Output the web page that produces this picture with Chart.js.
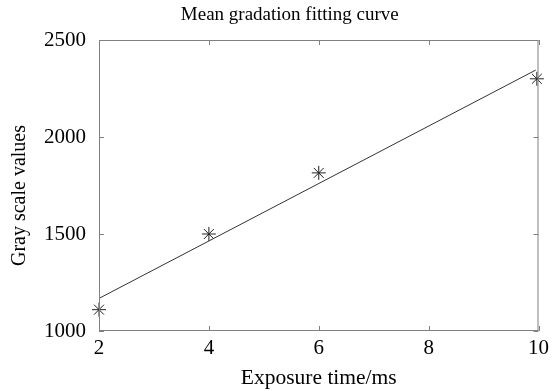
<!DOCTYPE html>
<html>
<head>
<meta charset="utf-8">
<script src="https://cdn.jsdelivr.net/npm/chart.js@4"></script>
<style>
  html, body { margin: 0; padding: 0; background: #fff; }
  #wrap { width: 554px; height: 391px; }
</style>
</head>
<body>
<div id="wrap"><canvas id="chart"></canvas></div>
<script>
// measured gray values
const exposureTimes = [2, 4, 6, 9.97];
const grayValues = [1110, 1500, 1815, 2300];

// linear fit, end points
const fitX = [2, 9.95];
const fitY = [1168, 2345];

const xTicks = [2, 4, 6, 8, 10];
const yTicks = [1000, 1500, 2000, 2500];

const titleText = "Mean gradation fitting curve";
const yTitleText = "Gray scale values";

const serif = "'Liberation Serif', 'Times New Roman', serif";

// frame + inward ticks like matlab, plus titles
const frameTicks = {
  id: "frameTicks",
  afterDatasetsDraw(chart) {
    const { ctx, chartArea: a, scales } = chart;
    const len = 5;
    ctx.save();
    ctx.strokeStyle = "#808080";
    ctx.lineWidth = 1;
    ctx.strokeRect(a.left + 0.5, a.top + 0.5, a.right - a.left - 1, a.bottom - a.top - 1);
    ctx.beginPath();
    for (const v of xTicks) {
      const px = Math.round(scales.x.getPixelForValue(v)) + 0.5;
      ctx.moveTo(px, a.bottom);
      ctx.lineTo(px, a.bottom - len);
      ctx.moveTo(px, a.top);
      ctx.lineTo(px, a.top + len);
    }
    for (const v of yTicks) {
      const py = Math.round(scales.y.getPixelForValue(v)) + 0.5;
      ctx.moveTo(a.left, py);
      ctx.lineTo(a.left + len, py);
      ctx.moveTo(a.right, py);
      ctx.lineTo(a.right - len, py);
    }
    ctx.stroke();

    ctx.fillStyle = "#000";
    ctx.textAlign = "center";
    ctx.textBaseline = "middle";
    ctx.font = "19px " + serif;
    ctx.fillText(titleText, (a.left + a.right) / 2 - 29, 15);

    ctx.translate(20, (a.top + a.bottom) / 2 + 10);
    ctx.rotate(-Math.PI / 2);
    ctx.font = "20px " + serif;
    ctx.fillText(yTitleText, 0, 0);
    ctx.restore();
  }
};

new Chart(document.getElementById("chart"), {
  type: "scatter",
  data: {
    datasets: [
      {
        label: "fit",
        type: "line",
        data: fitX.map((x, i) => ({ x: x, y: fitY[i] })),
        borderColor: "#333",
        borderWidth: 1,
        pointRadius: 0,
        showLine: true,
        clip: false
      },
      {
        label: "data",
        data: exposureTimes.map((x, i) => ({ x: x, y: grayValues[i] })),
        pointStyle: "star",
        pointRadius: 7,
        borderColor: "#222",
        borderWidth: 1,
        backgroundColor: "#222",
        clip: false
      }
    ]
  },
  options: {
    responsive: true,
    maintainAspectRatio: false,
    animation: false,
    layout: { padding: { left: 0, right: 8, top: 40, bottom: 0 } },
    plugins: {
      legend: { display: false },
      tooltip: { enabled: false },
      title: { display: false }
    },
    scales: {
      x: {
        type: "linear",
        min: 2,
        max: 10,
        afterFit(scale) { scale.height = 60; },
        afterBuildTicks(scale) { scale.ticks = xTicks.map(v => ({ value: v })); },
        grid: { display: false, drawTicks: false },
        border: { display: false },
        ticks: { color: "#000", padding: 5, font: { family: serif, size: 21 }, callback: v => String(v) },
        title: {
          display: true,
          text: "Exposure time/ms",
          color: "#000",
          font: { family: serif, size: 21.5 },
          padding: { top: 0, bottom: 0 }
        }
      },
      y: {
        type: "linear",
        min: 1000,
        max: 2500,
        afterFit(scale) { scale.width = 99; },
        afterBuildTicks(scale) { scale.ticks = yTicks.map(v => ({ value: v })); },
        grid: { display: false, drawTicks: false },
        border: { display: false },
        ticks: { color: "#000", padding: 13, font: { family: serif, size: 21 }, callback: v => String(v) }
      }
    }
  },
  plugins: [frameTicks]
});
</script>
</body>
</html>
